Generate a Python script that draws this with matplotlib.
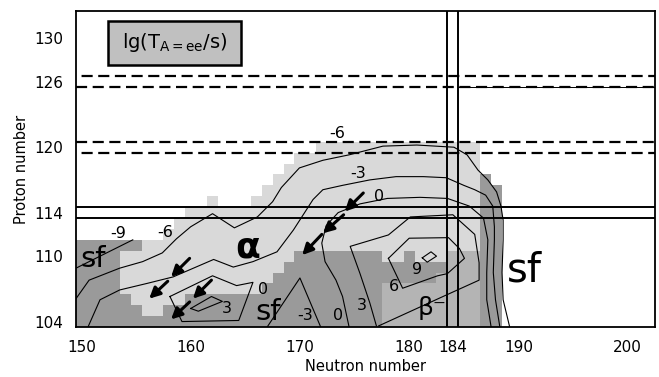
import numpy as np
import matplotlib.pyplot as plt
from matplotlib.colors import ListedColormap
from matplotlib.patches import Rectangle

# --- cell map: one string per proton number, one char per neutron number 150..189
# '.' = no data, 'a' = alpha, 'b' = beta-, 's' = spontaneous fission
n_first = 150
z_rows = list(range(120, 103, -1))
cell_rows = [
    "......................aaaaaaaaaaaaaaa...",   # 120
    "....................aaaaaaaaaaaaaaaaa...",   # 119
    "...................aaaaaaaaaaaaaaaaaa...",   # 118
    "..................aaaaaaaaaaaaaaaaaaas..",   # 117
    ".................aaaaaaaaaaaaaaaaaaaass.",   # 116
    "............a...aaaaaaaaaaaaaaaaaaaaass.",   # 115
    "..........aaaaaaaaaaaaaaaaaaaaaaaaaaass.",   # 114
    ".........aaaaaaaaaaaaaaaaaaaaaaaaaaaass.",   # 113
    "........aaaaaaaaaaaaaaaaaaaaaaaaaaaaass.",   # 112
    "ssssssaaaaaaaaaaaaaaaaaaaaaaaaaaaaaaass.",   # 111
    "ssssaaaaaaaaaaaaaaaassssssssaasaaabbbss.",   # 110
    "ssssaaaaaaaaaaaaaaasssssssssssssssbbbss.",   # 109
    "ssssaaaaaaaaaaaaaasssssssssssssssbbbbss.",   # 108
    "ssssaaaaaaaaaaaaasssssssssssbbbbbbbbbss.",   # 107
    "sssssaaaaassssssssssssssssssbbbbbbbbbss.",   # 106
    "ssssssaassssssssssssssssssssbbbbbbbbbss.",   # 105
    "ssssssssssssssssssssssssssssbbbbbbbbbss.",   # 104
]

# --- contour lines of lg(T/s)
m9_n = [149.5, 154.7]
m9_z = [108.9, 111.5]
m6_n = [149.5, 150.7, 153.5, 155.6, 157.4, 158.7, 160.0, 162.0, 164.0, 166.1, 167.5,
        168.3, 169.95, 172.1, 174.5, 177.6, 180.7, 184.1, 185.3, 186.3, 187.2, 188.0,
        188.4, 188.6, 188.6, 188.5, 188.6, 189.2]
m6_z = [106.1, 107.8, 108.9, 109.5, 110.3, 111.6, 112.7, 113.9, 112.6, 113.6, 115.0,
        116.3, 118.1, 118.8, 119.3, 120.1, 120.2, 120.0, 119.3, 117.9, 117.0, 115.9,
        114.6, 113.3, 111.5, 108.5, 106.0, 103.5]
m3_n = [150.6, 151.7, 153.5, 156.0, 158.4, 162.1, 163.9, 165.7, 167.9, 169.4, 171.2,
        172.1, 173.9, 176.4, 178.8, 181.3, 183.4, 185.0, 186.0, 187.0, 187.65, 187.8,
        187.8, 187.7, 187.9, 188.3]
m3_z = [103.5, 106.0, 106.9, 107.5, 108.1, 109.7, 109.0, 109.5, 110.4, 112.4, 115.2,
        116.1, 116.5, 117.0, 117.3, 117.3, 117.2, 116.5, 116.1, 115.6, 114.6, 112.7,
        111.5, 108.5, 106.0, 103.5]
zero_n = [174.5, 173.9, 173.3, 172.3, 172.0, 172.4, 173.5, 175.5, 178.0, 181.0, 183.5,
          185.5, 186.8, 187.2, 187.1, 187.1, 187.5]
zero_z = [103.5, 106.3, 107.8, 109.5, 111.2, 112.8, 114.0, 114.8, 115.3, 115.4, 115.3,
          114.6, 113.5, 111.5, 108.5, 106.0, 103.5]
zero_loop_n = [158.1, 162.0, 164.2, 165.7, 164.4, 159.2, 158.1]
zero_loop_z = [106.3, 108.2, 107.3, 107.6, 104.1, 104.0, 106.3]
three_loop_n = [160.0, 161.9, 162.9, 160.7, 160.0]
three_loop_z = [105.2, 106.3, 105.85, 104.95, 105.2]
m3_low_n = [167.0, 170.0, 171.9]
m3_low_z = [103.5, 108.0, 103.5]
three_n = [177.0, 176.4, 175.5, 174.6, 178.1, 180.1, 184.0, 186.0, 186.4, 186.4, 183.1, 177.2]
three_z = [103.6, 105.7, 108.4, 110.9, 111.95, 113.6, 113.8, 112.0, 109.4, 107.8, 106.3, 103.6]
six_n = [178.1, 180.0, 183.6, 184.6, 185.06, 183.5, 182.6, 179.4, 178.1]
six_z = [109.8, 111.65, 111.7, 110.7, 109.8, 108.4, 108.2, 107.06, 109.8]
nine_n = [181.2, 182.0, 182.5, 181.65, 181.2]
nine_z = [109.85, 110.4, 110.0, 109.45, 109.85]

contours = [(m9_n, m9_z), (m6_n, m6_z), (m3_n, m3_z), (zero_n, zero_z),
            (zero_loop_n, zero_loop_z), (three_loop_n, three_loop_z),
            (m3_low_n, m3_low_z), (three_n, three_z), (six_n, six_z), (nine_n, nine_z)]

# decay arrows (tail N, tail Z, head N, head Z)
arrows = [(159.9, 109.8, 158.2, 108.1), (157.9, 107.7, 156.2, 106.1),
          (161.9, 107.8, 160.2, 106.1), (159.9, 105.8, 158.2, 104.2),
          (175.8, 115.8, 174.1, 114.1), (174.0, 113.8, 172.1, 112.1),
          (172.0, 112.0, 170.2, 110.1)]

# contour value labels
label_text = ["-9", "-6", "-6", "-3", "0", "0", "3", "-3", "0", "3", "6", "9"]
label_n = [153.35, 157.65, 173.4, 175.35, 177.2, 166.65, 163.3, 170.5, 173.5, 175.66, 178.56, 180.75]
label_z = [112.1, 112.2, 121.3, 117.6, 115.5, 106.9, 105.2, 104.6, 104.6, 105.5, 107.2, 108.8]

shell_z = [126.5, 125.5, 120.5, 119.5]     # dashed
shell_offset = [5, 0, 0, 5]
closed_z = [114.5, 113.5]                  # solid
closed_n = [183.5, 184.5]                  # solid

x_ticks = [150, 160, 170, 180, 184, 190, 200]
y_ticks = [104, 110, 114, 120, 126, 130]

light = '#d9d9d9'
medium = '#b4b4b4'
dark = '#9a9a9a'

fig = plt.figure(figsize=(6.59, 3.77), dpi=100)
ax = fig.add_axes([0.1153, 0.1326, 0.8786, 0.8382])

# map of decay modes
codes = {'a': 0, 'b': 1, 's': 2}
grid = np.ma.masked_all((len(z_rows), len(cell_rows[0])))
for r, row in enumerate(cell_rows):
    for c, ch in enumerate(row):
        if ch in codes:
            grid[r, c] = codes[ch]
n_edges = np.arange(len(cell_rows[0]) + 1) + n_first - 0.5
z_edges = np.array(z_rows + [z_rows[-1] - 1]) + 0.5
ax.pcolormesh(n_edges, z_edges, grid, cmap=ListedColormap([light, medium, dark]),
              vmin=-0.5, vmax=2.5, zorder=0)

for n, z in contours:
    ax.plot(n, z, color='black', lw=0.8, zorder=2)

for z, off in zip(shell_z, shell_offset):
    ax.axhline(z, color='black', lw=1.6, linestyle=(off, (5, 2.5)), zorder=3)
ax.plot([184.5, 202.5], [125.5, 125.5], color='black', lw=0.7, zorder=3)
for z in closed_z:
    ax.axhline(z, color='black', lw=1.4, zorder=3)
for n in closed_n:
    ax.axvline(n, color='black', lw=1.4, zorder=3)

for n0, z0, n1, z1 in arrows:
    ax.annotate('', xy=(n1, z1), xytext=(n0, z0),
                arrowprops=dict(arrowstyle='-|>', color='black', lw=2.2,
                                mutation_scale=16, shrinkA=0, shrinkB=0), zorder=4)

for t, n, z in zip(label_text, label_n, label_z):
    ax.text(n, z, t, fontsize=11.5, ha='center', va='center', zorder=5)

ax.text(151.06, 109.75, 'sf', fontsize=21, ha='center', va='center', zorder=5)
ax.text(167.1, 104.9, 'sf', fontsize=21, ha='center', va='center', zorder=5)
ax.text(190.5, 108.7, 'sf', fontsize=29, ha='center', va='center', zorder=5)
ax.text(165.2, 110.8, 'α', fontsize=26, fontweight='bold', ha='center', va='center', zorder=5)
ax.text(182.1, 105.2, 'β⁻', fontsize=18, ha='center', va='center', zorder=5)

# legend box
ax.add_patch(Rectangle((0.0553, 0.829), 0.2297, 0.139, transform=ax.transAxes,
                       facecolor='#c0c0c0', edgecolor='black', lw=1.8, zorder=5))
ax.text(0.170, 0.899, r'lg($\mathregular{T_{A=ee}}$/s)', transform=ax.transAxes,
        fontsize=14, ha='center', va='center', zorder=6)

ax.set_xlim(149.5, 202.5)
ax.set_ylim(103.5, 132.5)
ax.set_xticks(x_ticks)
ax.set_yticks(y_ticks)
ax.tick_params(length=0, pad=9, labelsize=11)
for s in ax.spines.values():
    s.set_linewidth(1.3)
ax.set_xlabel('Neutron number', fontsize=10.5, labelpad=3)
ax.set_ylabel('Proton number', fontsize=10.5, labelpad=4)

fig.savefig('out.png', dpi=100)
